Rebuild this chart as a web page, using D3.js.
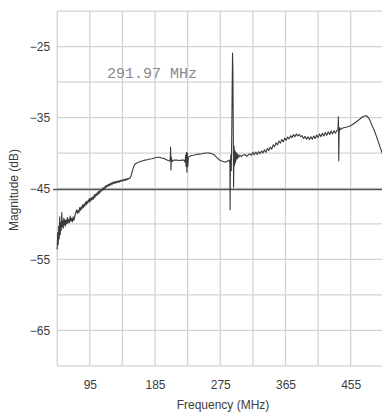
<!DOCTYPE html>
<html>
<head>
<meta charset="utf-8">
<script src="https://cdn.jsdelivr.net/npm/d3@7"></script>
<style>
  html, body { margin: 0; padding: 0; background: #ffffff; }
  svg { display: block; }
</style>
</head>
<body>
<svg id="chart" width="382" height="412"></svg>
<script>
// ---- data ----
const freqMHz = [
  50, 50.7, 51.4, 52.1, 52.8, 53.5, 54.2, 54.9, 55.6, 56.3, 57, 57.7, 58.4, 59.1, 59.8, 60.5, 61.2, 62, 63, 64, 65, 66, 67, 68, 69, 70, 71, 72, 73, 74, 75,
  77, 78, 79, 80, 81, 82, 83, 84, 85, 86, 87, 88, 89, 90, 91, 92, 93, 94, 95, 96, 97, 98, 99, 100,
  101, 102, 103, 104, 105, 106, 107, 108, 109, 110, 111, 112, 113, 114, 115, 116, 117, 118, 119, 120,
  121, 122, 123, 124, 125, 126, 127, 128, 129, 130, 131, 132, 133, 134, 135, 136, 137, 138, 139, 140,
  141, 142, 143, 144, 145, 146, 147, 148, 149,
  150, 152, 154, 156, 158, 160, 162,
  165, 168, 171, 174, 178, 181, 184, 188, 191, 194, 197, 200, 203, 205, 206, 206.5, 207, 207.5, 208.5, 211, 215, 219, 222, 225,
  226.5, 227.2, 227.8, 228.4, 229, 229.6, 230.2, 231, 232.5, 235, 238, 242, 246, 250, 254, 258, 262, 266, 270, 273, 276, 279, 282, 284, 286, 287.5,
  288.3, 288.6, 288.9, 289.5, 290.2, 290.8, 291.5, 291.97, 292.4, 292.8, 293.4, 294.0, 294.6, 295.2, 295.8, 296.4, 297, 297.8, 298.6, 299.5, 300.5, 302, 304, 306,
  309, 312, 315, 318,
  320, 322, 324, 326, 328, 330, 332, 334, 336, 338, 340, 342, 344, 346, 348, 350, 352, 354, 356, 358,
  360, 362, 364, 366, 368, 370, 372, 374, 376, 378, 380, 382, 384, 386, 388, 390, 392, 394, 396, 398,
  400, 402, 404, 406, 408, 410, 412, 414, 416, 418, 420, 422, 424, 426, 428, 430, 432, 434, 436,
  437.5, 438.0, 438.5, 439.0, 439.6, 440.5, 443, 447, 451, 454, 458, 462, 466, 469, 472, 475, 477.5, 480, 482, 484, 487, 490, 493, 496, 498.5, 501
];
const magnitudeDb = [
  -53.6, -51.2, -52.9, -50.3, -52.1, -49.0, -51.5, -49.8, -50.9, -48.4, -50.4, -49.6, -50.6, -49.2, -50.1, -49.4, -50.3, -49.5, -50.0, -49.1, -49.9, -49.3, -49.8, -48.9, -49.6, -49.2, -49.7, -49.0, -49.5, -49.1, -48.6,
  -48.0, -48.5, -48.1, -48.4, -47.7, -48.1, -47.6, -47.9, -47.3, -47.7, -47.2, -47.5, -46.9, -47.3, -46.8, -47.1, -46.6, -46.9, -46.4, -46.8, -46.3, -46.6, -46.2, -46.5,
  -45.9, -46.3, -45.8, -46.0, -45.6, -45.9, -45.4, -45.7, -45.3, -45.5, -45.1, -45.3, -44.9, -45.2, -44.8, -45.0, -44.6, -44.8, -44.5, -44.7,
  -44.4, -44.6, -44.3, -44.5, -44.2, -44.4, -44.1, -44.3, -44.05, -44.25, -44.0, -44.2, -43.95, -44.15, -43.9, -44.1, -43.85, -44.0, -43.8, -43.95,
  -43.75, -43.9, -43.7, -43.85, -43.65, -43.8, -43.6, -43.7, -43.55,
  -43.6, -43.2, -42.4, -41.8, -41.5, -41.4, -41.3,
  -41.2, -41.1, -41.0, -40.95, -40.85, -40.8, -40.7, -40.6, -40.6, -40.7, -40.75, -40.9, -41.05, -41.1, -40.8, -39.2, -42.4, -40.6, -41.2, -41.0, -41.0, -41.05, -41.0, -41.0,
  -41.3, -40.3, -41.9, -39.9, -42.7, -40.0, -41.9, -40.6, -40.5, -40.35, -40.3, -40.2, -40.15, -40.1, -40.0, -40.0, -40.05, -40.2, -40.6, -40.9, -41.1, -41.2, -41.3, -41.2, -41.1, -41.0,
  -41.6, -48.0, -41.8, -40.3, -42.5, -38.0, -30.0, -25.9, -28.0, -34.0, -44.8, -39.0, -41.8, -39.6, -41.4, -39.9, -41.0, -40.0, -40.8, -40.2, -40.6, -40.3, -40.5, -40.3,
  -40.2, -40.45, -40.1, -40.3,
  -39.9, -40.25, -39.85, -40.2, -39.8, -40.1, -39.7, -40.0, -39.55, -39.9, -39.35, -39.65, -39.15, -39.45, -38.85, -39.1, -38.55, -38.85, -38.3, -38.6,
  -38.1, -38.4, -37.9, -38.2, -37.75, -38.0, -37.55, -37.85, -37.4, -37.7, -37.3, -37.6, -37.35, -37.7, -37.55, -37.95, -37.65, -38.05, -37.7, -38.1,
  -37.7, -38.05, -37.6, -37.95, -37.45, -37.8, -37.3, -37.7, -37.2, -37.6, -37.1, -37.5, -37.0, -37.4, -36.9, -37.3, -36.85, -37.2, -36.8,
  -36.7, -34.9, -41.1, -37.3, -36.4, -36.7, -36.5, -36.4, -36.3, -36.2, -35.95, -35.65, -35.35, -35.1, -34.85, -34.75, -34.8, -35.1, -35.5, -36.0, -36.7, -37.5, -38.4, -39.3, -40.0, -40.7
];
const xGridValues = [50, 95, 140, 185, 230, 275, 320, 365, 410, 455, 500, 545];
const yGridValues = [-70, -65, -60, -55, -50, -45, -40, -35, -30, -25, -20];
const xTickLabels = [95, 185, 275, 365, 455];
const yTickLabels = [-25, -35, -45, -55, -65];
const referenceLevel = [-45];
const markerLabel = ["291.97 MHz"];
const xTitle = "Frequency (MHz)";
const yTitle = "Magnitude (dB)";

// ---- layout ----
const svg = d3.select("#chart");
const x = d3.scaleLinear().domain([50, 550]).range([57.2, 57.2 + 500 * 0.7247]);
const y = d3.scaleLinear().domain([-70, -20]).range([365.8, 11.2]);
const plotRight = 382;

// grid
const grid = svg.append("g").attr("stroke", "#d3d3d3").attr("stroke-width", 1.3);
grid.selectAll("line.v").data(xGridValues).join("line")
  .attr("class", "v")
  .attr("x1", d => x(d)).attr("x2", d => x(d))
  .attr("y1", y(-20)).attr("y2", y(-70));
grid.selectAll("line.h").data(yGridValues).join("line")
  .attr("class", "h")
  .attr("x1", x(50)).attr("x2", plotRight)
  .attr("y1", d => y(d)).attr("y2", d => y(d));

// axes labels via d3 axes
const yAxis = d3.axisLeft(y).tickValues(yTickLabels).tickSize(0).tickPadding(0).tickFormat(d3.format("d"));
const gy = svg.append("g").attr("transform", `translate(${x(50) - 7},0)`).call(yAxis);
gy.select(".domain").remove();
gy.selectAll("text").attr("font-family", "'Liberation Sans', Arial, sans-serif")
  .attr("font-size", 12).attr("fill", "#3c3c3c");

const xAxis = d3.axisBottom(x).tickValues(xTickLabels).tickSize(0).tickPadding(0).tickFormat(d3.format("d"));
const gx = svg.append("g").attr("transform", `translate(0,${y(-70) + 15})`).call(xAxis);
gx.select(".domain").remove();
gx.selectAll("text").attr("font-family", "'Liberation Sans', Arial, sans-serif")
  .attr("font-size", 12).attr("fill", "#3c3c3c");

// axis titles
svg.append("text")
  .attr("x", 223).attr("y", 409)
  .attr("text-anchor", "middle")
  .attr("font-family", "'Liberation Sans', Arial, sans-serif")
  .attr("font-size", 12).attr("fill", "#3c3c3c")
  .text(xTitle);
svg.append("text")
  .attr("transform", "translate(18,190) rotate(-90)")
  .attr("text-anchor", "middle")
  .attr("font-family", "'Liberation Sans', Arial, sans-serif")
  .attr("font-size", 12).attr("fill", "#3c3c3c")
  .text(yTitle);

// reference level line
svg.selectAll("line.ref").data(referenceLevel).join("line")
  .attr("class", "ref")
  .attr("x1", x(50) - 4).attr("x2", plotRight)
  .attr("y1", d => y(d) + 1).attr("y2", d => y(d) + 1)
  .attr("stroke", "#555").attr("stroke-width", 1.4);

// marker label
svg.selectAll("text.marker").data(markerLabel).join("text")
  .attr("class", "marker")
  .attr("x", 107).attr("y", 78)
  .attr("font-family", "'Liberation Mono', 'DejaVu Sans Mono', monospace")
  .attr("font-size", 15).attr("fill", "#8a8a8a")
  .text(d => d);

// trace
const points = freqMHz.map((f, i) => [f, magnitudeDb[i]]);
const line = d3.line().x(d => x(d[0])).y(d => y(d[1]));
svg.append("path")
  .datum(points)
  .attr("d", line)
  .attr("fill", "none")
  .attr("stroke", "#3a3a3a")
  .attr("stroke-width", 1.1)
  .attr("stroke-linejoin", "round");
</script>
</body>
</html>
